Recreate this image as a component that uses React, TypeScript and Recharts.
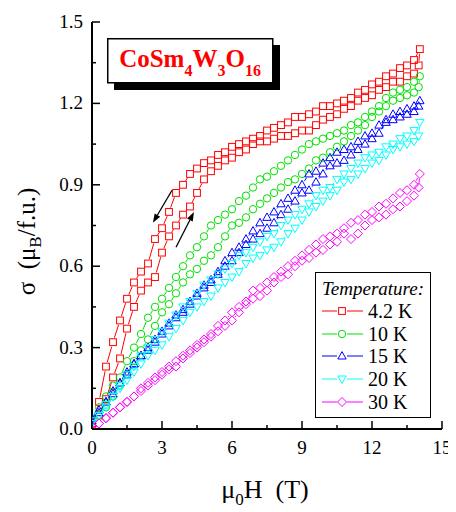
import React from "react";
import { ComposedChart, Scatter, XAxis, YAxis, ReferenceLine } from "recharts";

const FONT = "'Liberation Serif', 'Times New Roman', serif";

// field sweep, up then down (T)
const fieldUp = [0, 0.3, 0.6, 0.9, 1.2, 1.5, 1.8, 2.1, 2.4, 2.7, 3.0, 3.3, 3.6, 3.9, 4.2, 4.5, 4.8, 5.1, 5.4, 5.7, 6.0, 6.3, 6.6, 6.9, 7.2, 7.5, 7.8, 8.1, 8.4, 8.7, 9.0, 9.3, 9.6, 9.9, 10.2, 10.5, 10.8, 11.1, 11.4, 11.7, 12.0, 12.3, 12.6, 12.9, 13.2, 13.5, 13.8, 14.0];
const fieldDown = [14.05, 13.8, 13.5, 13.2, 12.9, 12.6, 12.3, 12.0, 11.7, 11.4, 11.1, 10.8, 10.5, 10.2, 9.9, 9.6, 9.3, 9.0, 8.7, 8.4, 8.1, 7.8, 7.5, 7.2, 6.9, 6.6, 6.3, 6.0, 5.7, 5.4, 5.1, 4.8, 4.5, 4.2, 3.9, 3.6, 3.3, 3.0, 2.7, 2.4, 2.1, 1.8, 1.5, 1.2, 0.9, 0.6, 0.3, 0];

// sigma (muB/f.u.)
const up4K2 = [0.02, 0.05, 0.11, 0.19, 0.26, 0.37, 0.45, 0.51, 0.54, 0.56, 0.65, 0.71, 0.75, 0.79, 0.82, 0.87, 0.92, 0.95, 0.97, 0.99, 1.00, 1.02, 1.03, 1.05, 1.06, 1.06, 1.07, 1.08, 1.08, 1.09, 1.10, 1.10, 1.12, 1.14, 1.15, 1.16, 1.18, 1.19, 1.21, 1.22, 1.23, 1.25, 1.26, 1.28, 1.28, 1.30, 1.31, 1.34];
const down4K2 = [1.40, 1.36, 1.34, 1.33, 1.31, 1.30, 1.28, 1.27, 1.25, 1.24, 1.22, 1.21, 1.20, 1.19, 1.19, 1.17, 1.16, 1.15, 1.15, 1.13, 1.12, 1.11, 1.10, 1.08, 1.07, 1.06, 1.05, 1.04, 1.02, 1.01, 0.99, 0.98, 0.96, 0.94, 0.90, 0.87, 0.80, 0.74, 0.70, 0.61, 0.58, 0.54, 0.48, 0.40, 0.32, 0.23, 0.10, 0.02];
const up10K = [0.03, 0.05, 0.08, 0.12, 0.16, 0.20, 0.25, 0.29, 0.33, 0.38, 0.43, 0.46, 0.50, 0.54, 0.57, 0.59, 0.62, 0.64, 0.67, 0.71, 0.75, 0.76, 0.78, 0.81, 0.83, 0.85, 0.87, 0.89, 0.91, 0.92, 0.94, 0.96, 0.99, 1.00, 1.02, 1.04, 1.06, 1.08, 1.10, 1.12, 1.15, 1.17, 1.19, 1.21, 1.22, 1.23, 1.24, 1.26];
const down10K = [1.30, 1.28, 1.26, 1.25, 1.24, 1.22, 1.19, 1.17, 1.15, 1.13, 1.12, 1.10, 1.09, 1.08, 1.07, 1.06, 1.05, 1.03, 1.01, 0.99, 0.97, 0.95, 0.93, 0.92, 0.89, 0.86, 0.84, 0.81, 0.79, 0.77, 0.75, 0.71, 0.67, 0.64, 0.60, 0.56, 0.52, 0.48, 0.45, 0.41, 0.35, 0.30, 0.25, 0.19, 0.16, 0.12, 0.08, 0.04];
const up15K = [0.03, 0.06, 0.10, 0.13, 0.17, 0.21, 0.24, 0.27, 0.29, 0.32, 0.35, 0.38, 0.41, 0.43, 0.46, 0.49, 0.52, 0.54, 0.57, 0.60, 0.62, 0.65, 0.68, 0.70, 0.72, 0.74, 0.76, 0.79, 0.81, 0.84, 0.87, 0.88, 0.91, 0.94, 0.97, 0.98, 0.99, 1.01, 1.03, 1.05, 1.07, 1.09, 1.13, 1.14, 1.15, 1.16, 1.17, 1.19];
const down15K = [1.21, 1.19, 1.18, 1.17, 1.16, 1.14, 1.12, 1.09, 1.08, 1.06, 1.04, 1.03, 1.02, 1.00, 0.98, 0.95, 0.94, 0.90, 0.88, 0.85, 0.83, 0.80, 0.78, 0.76, 0.73, 0.70, 0.67, 0.65, 0.62, 0.58, 0.55, 0.53, 0.50, 0.47, 0.44, 0.42, 0.39, 0.36, 0.33, 0.30, 0.27, 0.24, 0.20, 0.17, 0.14, 0.10, 0.07, 0.04];
const up20K = [0.02, 0.05, 0.08, 0.12, 0.15, 0.18, 0.21, 0.24, 0.27, 0.29, 0.31, 0.34, 0.37, 0.40, 0.43, 0.45, 0.47, 0.49, 0.52, 0.54, 0.56, 0.58, 0.61, 0.63, 0.64, 0.66, 0.67, 0.69, 0.72, 0.74, 0.77, 0.80, 0.82, 0.84, 0.86, 0.88, 0.91, 0.92, 0.94, 0.96, 0.98, 0.99, 1.01, 1.03, 1.04, 1.05, 1.06, 1.08];
const down20K = [1.13, 1.10, 1.08, 1.07, 1.05, 1.04, 1.02, 1.01, 1.00, 0.98, 0.96, 0.94, 0.92, 0.89, 0.88, 0.86, 0.83, 0.81, 0.79, 0.77, 0.75, 0.72, 0.71, 0.69, 0.67, 0.65, 0.64, 0.61, 0.59, 0.57, 0.55, 0.53, 0.50, 0.47, 0.45, 0.42, 0.39, 0.36, 0.33, 0.30, 0.27, 0.23, 0.20, 0.16, 0.12, 0.09, 0.05, 0.03];
const up30K = [0.01, 0.02, 0.04, 0.06, 0.08, 0.10, 0.12, 0.14, 0.16, 0.18, 0.20, 0.22, 0.23, 0.26, 0.28, 0.30, 0.32, 0.34, 0.36, 0.38, 0.40, 0.43, 0.46, 0.48, 0.49, 0.51, 0.54, 0.56, 0.57, 0.60, 0.62, 0.63, 0.65, 0.66, 0.68, 0.69, 0.72, 0.70, 0.72, 0.75, 0.77, 0.78, 0.79, 0.81, 0.82, 0.84, 0.86, 0.89];
const down30K = [0.94, 0.90, 0.88, 0.87, 0.85, 0.83, 0.82, 0.80, 0.79, 0.77, 0.76, 0.74, 0.72, 0.71, 0.70, 0.68, 0.66, 0.64, 0.62, 0.60, 0.58, 0.56, 0.54, 0.52, 0.51, 0.47, 0.45, 0.43, 0.40, 0.38, 0.35, 0.33, 0.31, 0.29, 0.27, 0.25, 0.23, 0.21, 0.19, 0.17, 0.15, 0.12, 0.10, 0.08, 0.06, 0.04, 0.02, 0.01];

const temps = ["4.2 K", "10 K", "15 K", "20 K", "30 K"];
const colors = ["#ff0000", "#00e000", "#0000ff", "#00ffff", "#ff00ff"];
const symbols = ["square", "circle", "up", "down", "diamond"];
const upBranches = [up4K2, up10K, up15K, up20K, up30K];
const downBranches = [down4K2, down10K, down15K, down20K, down30K];

const xTicks = [0, 1.5, 3, 4.5, 6, 7.5, 9, 10.5, 12, 13.5, 15];
const xLabels = [0, 3, 6, 9, 12, 15];
const yTicks = [0, 0.15, 0.3, 0.45, 0.6, 0.75, 0.9, 1.05, 1.2, 1.35, 1.5];
const yLabels = [0, 0.3, 0.6, 0.9, 1.2, 1.5];

// sweep direction arrows (down branch, up branch)
const arrows = [
  [{ x: 3.43, y: 0.88 }, { x: 2.61, y: 0.76 }],
  [{ x: 3.6, y: 0.67 }, { x: 4.37, y: 0.8 }],
];

const series = temps.map((t, i) => ({
  name: t,
  color: colors[i],
  symbol: symbols[i],
  points: fieldUp
    .map((h, j) => ({ h, s: upBranches[i][j] }))
    .concat(fieldDown.map((h, j) => ({ h, s: downBranches[i][j] }))),
}));

function Marker({ cx, cy, kind, color }: any) {
  const common = { fill: "none", stroke: color, strokeWidth: 1 };
  if (kind === "square") return <rect x={cx - 3.4} y={cy - 3.4} width={6.8} height={6.8} {...common} />;
  if (kind === "circle") return <circle cx={cx} cy={cy} r={3.7} {...common} />;
  if (kind === "up")
    return <polygon points={`${cx},${cy - 4.4} ${cx + 4.2},${cy + 3} ${cx - 4.2},${cy + 3}`} {...common} />;
  if (kind === "down")
    return <polygon points={`${cx},${cy + 4.4} ${cx + 4.2},${cy - 3} ${cx - 4.2},${cy - 3}`} {...common} />;
  return <polygon points={`${cx},${cy - 4.5} ${cx + 4.5},${cy} ${cx},${cy + 4.5} ${cx - 4.5},${cy}`} {...common} />;
}

// connecting line with a gap around each symbol
const GAP = 4.6;
const gappedLine = (color: string) => (props: any) => {
  const pts = props.points || [];
  const segs = [];
  for (let i = 0; i < pts.length - 1; i++) {
    const p = pts[i];
    const q = pts[i + 1];
    const dx = q.x - p.x;
    const dy = q.y - p.y;
    const len = Math.hypot(dx, dy);
    if (len <= 2 * GAP + 1) continue;
    const ux = dx / len;
    const uy = dy / len;
    segs.push(
      <line key={i} x1={p.x + ux * GAP} y1={p.y + uy * GAP} x2={q.x - ux * GAP} y2={q.y - uy * GAP} stroke={color} strokeWidth={1} />
    );
  }
  return <g>{segs}</g>;
};

const tickStroke = { stroke: "#000", strokeWidth: 1.5 };

const BottomTick = ({ x, y, payload }: any) => {
  const major = xLabels.includes(payload.value);
  return (
    <g>
      <line x1={x} y1={y} x2={x} y2={y - (major ? 8 : 4)} {...tickStroke} />
      {major && (
        <text x={x} y={y + 25} textAnchor="middle" fontSize={19} fontFamily={FONT} fill="#000">
          {payload.value}
        </text>
      )}
    </g>
  );
};

const TopTick = ({ x, y, payload }: any) => {
  const major = xLabels.includes(payload.value);
  return <line x1={x} y1={y} x2={x} y2={y + (major ? 8 : 4)} {...tickStroke} />;
};

const LeftTick = ({ x, y, payload }: any) => {
  const major = yLabels.includes(payload.value);
  return (
    <g>
      <line x1={x} y1={y} x2={x + (major ? 8 : 4)} y2={y} {...tickStroke} />
      {major && (
        <text x={x - 9} y={y + 6} textAnchor="end" fontSize={19} fontFamily={FONT} fill="#000">
          {payload.value.toFixed(1)}
        </text>
      )}
    </g>
  );
};

const RightTick = ({ x, y, payload }: any) => {
  const major = yLabels.includes(payload.value);
  return <line x1={x} y1={y} x2={x - (major ? 8 : 4)} y2={y} {...tickStroke} />;
};

const Arrow = ({ x1, y1, x2, y2 }: any) => {
  const a = Math.atan2(y2 - y1, x2 - x1);
  const bx = x2 - 9 * Math.cos(a);
  const by = y2 - 9 * Math.sin(a);
  const w = 3.2;
  return (
    <g>
      <line x1={x1} y1={y1} x2={bx} y2={by} stroke="#000" strokeWidth={1.3} />
      <polygon
        points={`${x2},${y2} ${bx + w * Math.sin(a)},${by - w * Math.cos(a)} ${bx - w * Math.sin(a)},${by + w * Math.cos(a)}`}
        fill="#000"
      />
    </g>
  );
};

const XTitle = ({ viewBox }: any) => {
  const cx = viewBox.x + viewBox.width / 2 - 2;
  const by = viewBox.y + 69;
  return (
    <text x={cx} y={by} textAnchor="middle" fontSize={26} fontFamily={FONT} fill="#000">
      μ<tspan dy={7} fontSize={17}>0</tspan>
      <tspan dy={-7}>H{"\u00a0\u00a0"}(T)</tspan>
    </text>
  );
};

const YTitle = ({ viewBox }: any) => {
  const bx = viewBox.x + 27;
  const cy = viewBox.y + viewBox.height / 2 + 16;
  return (
    <text x={bx} y={cy} transform={`rotate(-90, ${bx}, ${cy})`} textAnchor="middle" fontSize={25} fontFamily={FONT} fill="#000">
      σ{"\u00a0\u00a0"}(μ<tspan dy={6} fontSize={17}>B</tspan>
      <tspan dy={-6}>/f.u.)</tspan>
    </text>
  );
};

function TitleBox() {
  return (
    <svg width={176} height={56} style={{ position: "absolute", left: 99, top: 30 }}>
      <rect x={7} y={7} width={166} height={45} fill="#000" />
      <rect x={0.75} y={0.75} width={165} height={44} fill="#fff" stroke="#000" strokeWidth={1.5} />
      <text x={83} y={29} textAnchor="middle" fontSize={25} fontWeight="bold" fontFamily={FONT} fill="#ff0000">
        CoSm<tspan dy={9} fontSize={16}>4</tspan>
        <tspan dy={-9}>W</tspan>
        <tspan dy={9} fontSize={16}>3</tspan>
        <tspan dy={-9}>O</tspan>
        <tspan dy={9} fontSize={16}>16</tspan>
      </text>
    </svg>
  );
}

function LegendBox() {
  const rows = [39, 62, 84, 107, 130];
  return (
    <svg width={117} height={147} style={{ position: "absolute", left: 307, top: 264 }}>
      <rect x={0.5} y={0.5} width={115} height={145} fill="#fff" stroke="#000" strokeWidth={1} />
      <text x={58} y={23} textAnchor="middle" fontSize={19} fontStyle="italic" fontFamily={FONT} fill="#000">
        Temperature:
      </text>
      {series.map((s, i) => (
        <g key={s.name}>
          <line x1={7} y1={rows[i]} x2={22} y2={rows[i]} stroke={s.color} strokeWidth={1} />
          <line x1={32} y1={rows[i]} x2={48} y2={rows[i]} stroke={s.color} strokeWidth={1} />
          <Marker cx={27} cy={rows[i]} kind={s.symbol} color={s.color} />
          <text x={53} y={rows[i] + 7} fontSize={20} fontFamily={FONT} fill="#000">
            {s.name}
          </text>
        </g>
      ))}
    </svg>
  );
}

export default function App() {
  return (
    <div style={{ position: "relative", width: 448, height: 504, background: "#fff" }}>
      <ComposedChart width={448} height={504} margin={{ top: 14, right: 14, bottom: 0, left: 0 }}>
        <XAxis
          xAxisId="b"
          type="number"
          dataKey="h"
          domain={[0, 15]}
          ticks={xTicks}
          interval={0}
          allowDataOverflow
          height={83}
          tickSize={0}
          tickMargin={0}
          tickLine={false}
          tick={BottomTick}
          axisLine={{ stroke: "#000", strokeWidth: 2 }}
          label={{ content: XTitle }}
        />
        <XAxis
          xAxisId="t"
          orientation="top"
          type="number"
          domain={[0, 15]}
          ticks={xTicks}
          interval={0}
          allowDataOverflow
          height={0}
          tickSize={0}
          tickMargin={0}
          tickLine={false}
          tick={TopTick}
          axisLine={{ stroke: "#000", strokeWidth: 2 }}
        />
        <YAxis
          yAxisId="l"
          type="number"
          dataKey="s"
          domain={[0, 1.5]}
          ticks={yTicks}
          interval={0}
          allowDataOverflow
          width={84}
          tickSize={0}
          tickMargin={0}
          tickLine={false}
          tick={LeftTick}
          axisLine={{ stroke: "#000", strokeWidth: 2 }}
          label={{ content: YTitle }}
        />
        <YAxis
          yAxisId="r"
          orientation="right"
          type="number"
          domain={[0, 1.5]}
          ticks={yTicks}
          interval={0}
          allowDataOverflow
          width={0}
          tickSize={0}
          tickMargin={0}
          tickLine={false}
          tick={RightTick}
          axisLine={{ stroke: "#000", strokeWidth: 2 }}
        />
        {series.map((s) => (
          <Scatter
            key={s.name}
            name={s.name}
            xAxisId="b"
            yAxisId="l"
            data={s.points}
            dataKey="s"
            line={gappedLine(s.color)}
            shape={(p: any) => <Marker cx={p.cx} cy={p.cy} kind={s.symbol} color={s.color} />}
            isAnimationActive={false}
          />
        ))}
        {arrows.map((seg, i) => (
          <ReferenceLine key={i} xAxisId="b" yAxisId="l" segment={seg} shape={Arrow} />
        ))}
      </ComposedChart>
      <TitleBox />
      <LegendBox />
    </div>
  );
}
